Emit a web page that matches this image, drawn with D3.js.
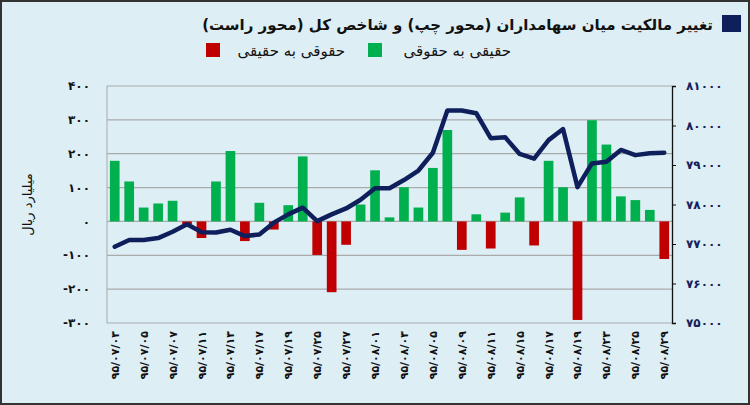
<!DOCTYPE html>
<html>
<head>
<meta charset="utf-8">
<script src="https://cdn.jsdelivr.net/npm/d3@7"></script>
<style>
  body { margin: 0; background: #fff; }
  svg { display: block; font-family: "DejaVu Sans", sans-serif; }
</style>
</head>
<body>
<div id="chart"></div>
<script>
// dates (every bar), only odd ones are labelled
const dates = ["95/07/03","95/07/04","95/07/05","95/07/06","95/07/07","95/07/10","95/07/11","95/07/12","95/07/13","95/07/14",
  "95/07/17","95/07/18","95/07/19","95/07/24","95/07/25","95/07/26","95/07/27","95/07/28","95/08/01","95/08/02",
  "95/08/03","95/08/04","95/08/05","95/08/08","95/08/09","95/08/10","95/08/11","95/08/12","95/08/15","95/08/16",
  "95/08/17","95/08/18","95/08/19","95/08/22","95/08/23","95/08/24","95/08/25","95/08/26","95/08/29"];
const labelIdx = d3.range(0, 39, 2);
// ownership change, billion rials (left axis)
const flow = [179,118,41,53,61,-8,-49,118,208,-58,55,-24,48,192,-99,-209,-69,50,151,12,
  101,41,158,270,-84,21,-80,26,71,-71,179,101,-291,299,227,74,63,34,-111];
// total index (right axis)
const index = [76930,77100,77100,77150,77310,77500,77300,77290,77360,77200,77240,77540,77750,77920,77580,77750,77900,78120,78410,78410,
  78620,78860,79310,80380,80380,80310,79680,79700,79280,79160,79630,79910,78440,79040,79080,79380,79250,79300,79310];
const leftTicks = [-300,-200,-100,0,100,200,300,400];
const rightTicks = [75000,76000,77000,78000,79000,80000,81000];

const fa = s => String(s).replace(/\d/g, d => "۰۱۲۳۴۵۶۷۸۹"[d]);

const W = 750, H = 405;
const m = {left: 107, right: 78, top: 86, bottom: 82};

const svg = d3.select("#chart").append("svg").attr("width", W).attr("height", H);
svg.append("rect").attr("x", 1).attr("y", 1).attr("width", W - 2).attr("height", H - 2)
  .attr("fill", "#ddeef5").attr("stroke", "#333").attr("stroke-width", 2);

const x = d3.scaleBand().domain(d3.range(dates.length))
  .range([m.left, W - m.right]).paddingInner(0.33).paddingOuter(0.2);
const y = d3.scaleLinear().domain([-300, 400]).range([H - m.bottom, m.top]);
const y2 = d3.scaleLinear().domain([75000, 81000]).range([H - m.bottom, m.top]);

// grid
svg.append("g").selectAll("line").data(leftTicks).join("line")
  .attr("x1", m.left).attr("x2", W - m.right)
  .attr("y1", d => y(d)).attr("y2", d => y(d))
  .attr("stroke", "#aaa").attr("stroke-width", 1.2);
svg.append("line").attr("x1", m.left).attr("x2", m.left)
  .attr("y1", m.top).attr("y2", H - m.bottom).attr("stroke", "#aaa");

// left axis labels
svg.append("g").selectAll("text").data(leftTicks).join("text")
  .attr("x", 90).attr("y", d => y(d)).attr("dy", "0.35em")
  .attr("text-anchor", "end").attr("font-size", 12).attr("font-weight", "bold")
  .attr("fill", "#111").style("direction", "ltr")
  .text(d => (d < 0 ? "-" : "") + fa(Math.abs(d)));

svg.append("text").attr("transform", `translate(32,${y(50)}) rotate(-90)`)
  .attr("text-anchor", "middle").attr("font-size", 13).attr("fill", "#111")
  .text("میلیارد ریال");

// right axis
const ra = svg.append("g").attr("transform", `translate(${W - m.right},0)`)
  .call(d3.axisRight(y2).tickValues(rightTicks).tickSize(4).tickFormat(d => fa(d)));
ra.select(".domain").attr("stroke", "#111").attr("stroke-width", 1.3);
ra.selectAll(".tick line").attr("stroke", "#111");
ra.selectAll("text").attr("x", 14).attr("font-size", 12).attr("font-weight", "bold")
  .attr("fill", "#14215a").attr("font-family", "DejaVu Sans");

// bars
svg.append("g").selectAll("rect").data(flow).join("rect")
  .attr("x", (d, i) => x(i)).attr("width", x.bandwidth())
  .attr("y", d => y(Math.max(0, d))).attr("height", d => Math.abs(y(d) - y(0)))
  .attr("fill", d => d >= 0 ? "#00b04f" : "#c00000");

// index line
svg.append("path").datum(index)
  .attr("d", d3.line().x((d, i) => x(i) + x.bandwidth() / 2).y(d => y2(d)))
  .attr("fill", "none").attr("stroke", "#0f1f5c").attr("stroke-width", 4.5)
  .attr("stroke-linejoin", "round").attr("stroke-linecap", "round");

// x labels
svg.append("g").selectAll("text").data(labelIdx).join("text")
  .attr("transform", i => `translate(${x(i) + x.bandwidth() / 2 + 4},${H - m.bottom + 8}) rotate(-90)`)
  .attr("text-anchor", "end").attr("font-size", 11).attr("font-weight", "bold").attr("fill", "#111")
  .style("direction", "ltr").text(i => fa(dates[i]));

// title + legend
svg.append("rect").attr("x", 722).attr("y", 15).attr("width", 19).attr("height", 17).attr("fill", "#0f1f5c");
svg.append("text").attr("x", 713).attr("y", 30).attr("text-anchor", "end")
  .attr("font-size", 15).attr("font-weight", "bold").attr("fill", "#111")
  .text("تغییر مالکیت میان سهامداران (محور چپ) و شاخص کل (محور راست)");

svg.append("rect").attr("x", 368).attr("y", 43).attr("width", 14).attr("height", 14).attr("fill", "#00b04f");
svg.append("text").attr("x", 511).attr("y", 56).attr("text-anchor", "end")
  .attr("font-size", 15).attr("fill", "#111").text("حقیقی به حقوقی");
svg.append("rect").attr("x", 206).attr("y", 43).attr("width", 14).attr("height", 14).attr("fill", "#c00000");
svg.append("text").attr("x", 345).attr("y", 56).attr("text-anchor", "end")
  .attr("font-size", 15).attr("fill", "#111").text("حقوقی به حقیقی");
</script>
</body>
</html>
